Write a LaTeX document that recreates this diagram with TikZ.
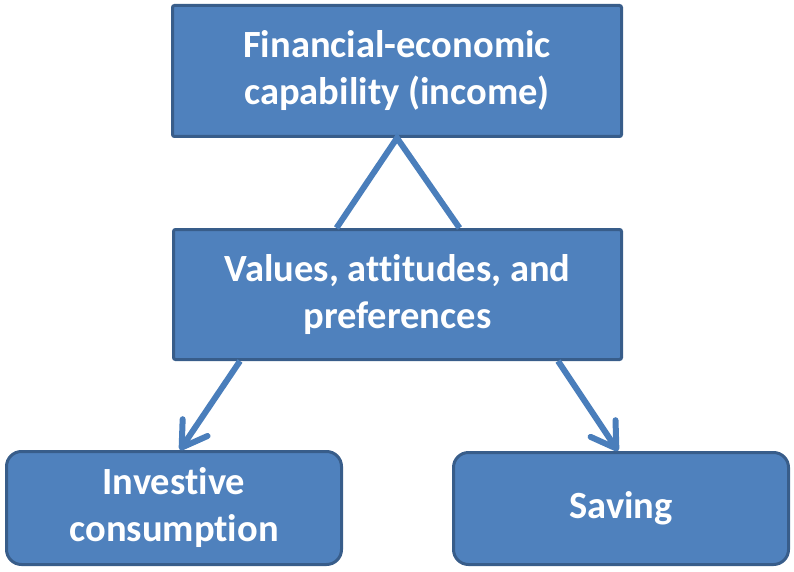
\documentclass[tikz,border=0pt]{standalone}
\usepackage{fontspec}
\usetikzlibrary{arrows.meta}
\newfontfamily\boxfont[Ligatures=NoCommon]{Carlito}
\definecolor{boxfill}{HTML}{4F81BD}
\definecolor{boxline}{HTML}{385D8A}
\definecolor{linkcol}{HTML}{4A7EBB}
\begin{document}
\begin{tikzpicture}[x=1pt, y=-1pt, every node/.style={draw=boxline, fill=boxfill, line width=3pt, text=white, align=center, inner sep=0pt, font=\boxfont\bfseries\fontsize{38.5}{47}\selectfont}, link/.style={draw=linkcol, line width=6pt}]
\useasboundingbox (0,0) rectangle (794,572);
\node[minimum width=449pt, minimum height=131pt, rounded corners=2pt] (F) at (397,71) {Financial-economic\\capability (income)};
\node[minimum width=448pt, minimum height=130pt, rounded corners=2pt] (V) at (397.5,294.5) {Values, attitudes, and\\preferences};
\node[minimum width=335pt, minimum height=113pt, rounded corners=15pt] (I) at (174,508) {Investive\\consumption};
\node[minimum width=335pt, minimum height=112pt, rounded corners=15pt] (S) at (621,508.5) {Saving};
\draw[link] ([xshift=-61pt]V.north) -- (F.south) -- ([xshift=62pt]V.north);
\draw[link, -{Straight Barb[length=24pt, width=30pt, round]}] ([xshift=68pt]V.south west) -- ([xshift=175pt]I.north west);
\draw[link, -{Straight Barb[length=24pt, width=30pt, round]}] ([xshift=-65pt]V.south east) -- ([xshift=166pt]S.north west);
\end{tikzpicture}
\end{document}
